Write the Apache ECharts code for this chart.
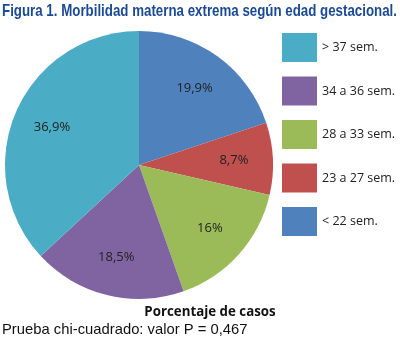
<!DOCTYPE html>
<html><head><meta charset="utf-8">
<script src="https://cdn.jsdelivr.net/npm/echarts@6/dist/echarts.min.js"></script>
<style>html,body{margin:0;padding:0;background:#fff}#c{width:400px;height:340px}</style>
</head><body><div id="c"></div>
<script>
const categories = ['< 22 sem.', '23 a 27 sem.', '28 a 33 sem.', '34 a 36 sem.', '> 37 sem.'];
const values = [19.9, 8.7, 16, 18.5, 36.9];
const valueLabels = ['19,9%', '8,7%', '16%', '18,5%', '36,9%'];
const colors = ['#4F81BD', '#C0504D', '#9BBB59', '#8064A2', '#4BACC6'];
const legendOrder = ['> 37 sem.', '34 a 36 sem.', '28 a 33 sem.', '23 a 27 sem.', '< 22 sem.'];
const titleText = 'Figura 1. Morbilidad materna extrema según edad gestacional.';

const data = categories.map((c, i) => ({ name: c, value: values[i], itemStyle: { color: colors[i] } }));
const labelData = categories.map((c, i) => ({ name: c, value: values[i], label: { formatter: valueLabels[i] } }));

const titleFont = 'bold 17px "Liberation Sans"';
const cv = document.createElement('canvas').getContext('2d');
cv.font = titleFont;
const titleScale = 395 / cv.measureText(titleText).width;

const chart = echarts.init(document.getElementById('c'));
chart.setOption({
  animation: false,
  graphic: [{
    type: 'text', left: 2, top: 3, scaleX: titleScale, originX: 0,
    style: { text: titleText, font: titleFont, fill: '#1b4a94' }
  }],
  title: [
    { text: 'Porcentaje de casos', left: 210, top: 306, textAlign: 'center', padding: 0,
      textStyle: { fontFamily: 'Open Sans', fontWeight: 'bold', fontSize: 13.3, color: '#111' } },
    { text: 'Prueba chi-cuadrado: valor P = 0,467', left: 2, top: 322, padding: 0,
      textStyle: { fontFamily: 'Liberation Sans', fontWeight: 'normal', fontSize: 14.8, color: '#111' } }
  ],
  legend: {
    orient: 'vertical', left: 282, top: 33, padding: 0, itemWidth: 35, itemHeight: 29, itemGap: 14.5,
    data: legendOrder, icon: 'rect',
    textStyle: { fontFamily: 'Open Sans', fontSize: 12.5, color: '#222' }
  },
  series: [
    { type: 'pie', center: [139, 165], radius: 134, startAngle: 90, clockwise: true,
      data: data, label: { show: false }, labelLine: { show: false }, silent: true },
    { type: 'pie', center: [139, 165], radius: [50, 134], startAngle: 90, clockwise: true,
      data: labelData, silent: true, legendHoverLink: false,
      itemStyle: { color: 'rgba(0,0,0,0)' },
      label: { show: true, position: 'inside', fontFamily: 'Open Sans', fontSize: 13, color: '#222' },
      labelLine: { show: false } }
  ]
});
</script></body></html>
